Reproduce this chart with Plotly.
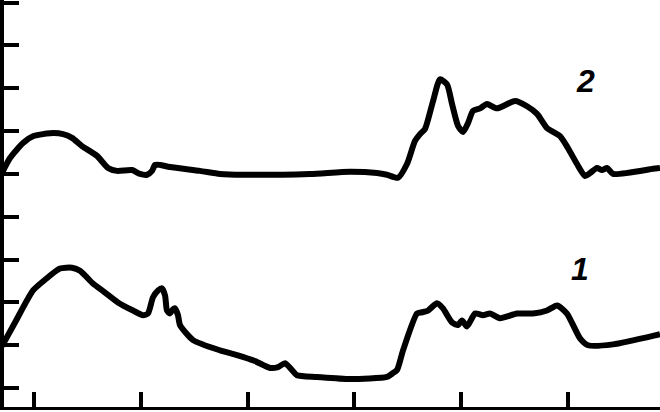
import plotly.graph_objects as go

# curve 2 (upper trace)
x2 = [70.0, 77.5, 89.7, 99.1, 115.0, 127.2, 135.6, 144.9, 159.0, 169.3, 177.7, 191.8,
      199.2, 205.8, 210.5, 213.3, 218.0, 227.3, 255.4, 274.2, 295.7, 358.4, 395.9, 421.2,
      430.5, 440.8, 449.2, 456.7, 461.4, 466.1, 473.6, 480.1, 486.7, 491.4, 497.0, 501.7,
      506.4, 511.0, 517.6, 524.1, 533.5, 550.4, 561.6, 571.0, 580.3, 592.5, 600.0, 608.4,
      615.9, 620.6, 627.1, 631.8, 636.5, 642.1, 679.6, 686.1]
y2 = [5.02, 5.37, 5.72, 5.88, 5.95, 5.93, 5.84, 5.65, 5.42, 5.14, 5.07, 5.09,
      5.00, 4.98, 5.07, 5.21, 5.21, 5.16, 5.07, 5.00, 4.98, 5.00, 5.05, 5.02,
      4.98, 4.91, 5.23, 5.77, 5.93, 6.05, 6.70, 7.21, 7.09, 6.63, 6.12, 5.98,
      6.19, 6.47, 6.53, 6.63, 6.53, 6.70, 6.58, 6.40, 6.07, 5.88, 5.60, 5.23,
      4.95, 5.02, 5.14, 5.09, 5.14, 5.00, 5.12, 5.14]

# curve 1 (lower trace)
x1 = [70.0, 82.2, 99.1, 110.3, 124.3, 135.6, 143.1, 155.2, 166.5, 178.6, 192.7, 202.1,
      206.7, 211.4, 216.1, 219.8, 222.7, 224.5, 227.3, 230.1, 232.0, 234.8, 236.7, 248.9,
      274.2, 290.1, 306.9, 321.0, 328.5, 335.0, 341.6, 346.2, 365.0, 395.9, 430.5, 436.1,
      439.9, 445.5, 458.6, 463.3, 468.9, 477.3, 482.9, 491.4, 497.0, 500.7, 505.4, 512.9,
      520.4, 527.0, 536.3, 552.2, 567.2, 580.3, 589.7, 599.0, 611.2, 618.7, 642.1, 681.4, 686.1]
y1 = [0.98, 1.53, 2.28, 2.53, 2.79, 2.81, 2.74, 2.44, 2.23, 2.00, 1.81, 1.70,
      1.74, 2.12, 2.28, 2.33, 2.16, 1.81, 1.74, 1.84, 1.86, 1.70, 1.47, 1.12,
      0.88, 0.77, 0.63, 0.47, 0.49, 0.58, 0.42, 0.30, 0.26, 0.21, 0.26, 0.35,
      0.42, 0.88, 1.74, 1.77, 1.81, 1.98, 1.86, 1.53, 1.47, 1.58, 1.44, 1.74,
      1.70, 1.74, 1.63, 1.74, 1.74, 1.81, 1.93, 1.74, 1.16, 1.00, 1.02, 1.23, 1.26]

x_ticks = [100, 200, 300, 400, 500, 600]
y_ticks = [0, 1, 2, 3, 4, 5, 6, 7, 8, 9]

fig = go.Figure()

for xs, ys in [(x1, y1), (x2, y2)]:
    fig.add_trace(go.Scatter(
        x=xs, y=ys, mode='lines',
        line=dict(color='black', width=6, shape='spline', smoothing=0.6),
        showlegend=False, hoverinfo='skip'
    ))

# curve numbers
for lbl, lx, ly in [("2", 616.8, 7.16), ("1", 611.2, 2.79)]:
    fig.add_annotation(
        x=lx, y=ly, text=f"<b><i>{lbl}</i></b>", showarrow=False,
        font=dict(size=32, color='black', family='Liberation Sans')
    )

fig.update_layout(
    width=660, height=412,
    margin=dict(l=4, r=0, t=0, b=5),
    paper_bgcolor='white', plot_bgcolor='white',
    xaxis=dict(range=[71.9, 686.1], tickvals=x_ticks, showticklabels=False,
               ticks='inside', ticklen=15, tickwidth=4, tickcolor='black',
               showline=True, linewidth=3, linecolor='black',
               showgrid=False, zeroline=False),
    yaxis=dict(range=[-0.442, 9.06], tickvals=y_ticks, showticklabels=False,
               ticks='inside', ticklen=15, tickwidth=4, tickcolor='black',
               showline=True, linewidth=4, linecolor='black',
               showgrid=False, zeroline=False),
)

# page has a default body margin; drop it so the figure sits at the corner
fig.write_html("out.html", config={'displayModeBar': False},
               post_script="document.body.style.margin='0';")
